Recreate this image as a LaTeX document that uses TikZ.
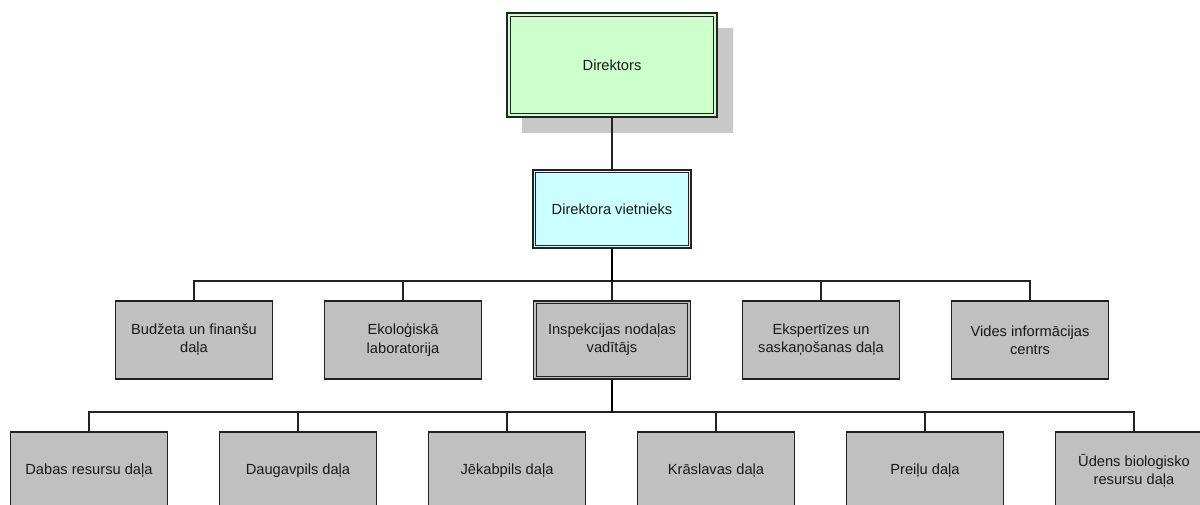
\documentclass[tikz,border=0pt]{standalone}
\usepackage{fontspec}
\setmainfont{Liberation Sans}
\usetikzlibrary{calc}
\definecolor{boxgray}{HTML}{C0C0C0}
\definecolor{shadowgray}{HTML}{C8C8C8}
\definecolor{dirgreen}{HTML}{CCFFCC}
\definecolor{viecyan}{HTML}{CCFFFF}
\definecolor{linecol}{HTML}{222222}
\tikzset{
  orgbox/.style={draw=linecol, line width=0.95pt, fill=boxgray, minimum width=117.75pt,
    minimum height=58.5pt, inner sep=0pt, align=center, text=black!90,
    font=\fontsize{11pt}{13.75pt}\selectfont},
  conn/.style={draw=linecol, line width=0.85pt},
  trunk/.style={draw=black, line width=1.6pt},
  innerframe/.style={draw=linecol, line width=0.95pt}
}
\begin{document}
\begin{tikzpicture}[x=0.75pt,y=-0.75pt]
\useasboundingbox (0,0) rectangle (1200,504);
% shadow of director
\fill[shadowgray] (522,28) rectangle (733,133);
% top nodes
\node[orgbox, fill=dirgreen, minimum width=157.5pt, minimum height=78pt] (dir) at (612,65) {Direktors};
\draw[innerframe] ($(dir.north west)+(3pt,-3pt)$) rectangle ($(dir.south east)+(-3pt,3pt)$);
\node[orgbox, fill=viecyan, minimum width=118.5pt] (vie) at (612,209) {Direktora vietnieks};
\draw[innerframe] ($(vie.north west)+(2.6pt,-2.6pt)$) rectangle ($(vie.south east)+(-2.6pt,2.6pt)$);
% level 2
\node[orgbox] (b1) at (194,340) {Budžeta un finanšu\\daļa};
\node[orgbox] (b2) at (403,340) {Ekoloģiskā\\laboratorija};
\node[orgbox] (b3) at (612,340) {Inspekcijas nodaļas\\vadītājs};
\draw[innerframe] ($(b3.north west)+(2.6pt,-2.6pt)$) rectangle ($(b3.south east)+(-2.6pt,2.6pt)$);
\node[orgbox] (b4) at (821,340) {Ekspertīzes un\\saskaņošanas daļa};
\node[orgbox] (b5) at (1030,340) {Vides informācijas\\centrs};
% level 3
\node[orgbox] (c1) at (89,471) {Dabas resursu daļa};
\node[orgbox] (c2) at (298,471) {Daugavpils daļa};
\node[orgbox] (c3) at (507,471) {Jēkabpils daļa};
\node[orgbox] (c4) at (716,471) {Krāslavas daļa};
\node[orgbox] (c5) at (925,471) {Preiļu daļa};
\node[orgbox] (c6) at (1134,471) {Ūdens biologisko\\resursu daļa};
% connectors
\coordinate (j2) at (612,281);
\coordinate (j3) at (612,412);
\draw[conn] (dir.south) -- (vie.north);
\foreach \n in {b1,b2,b3,b4,b5} {\draw[conn] (j2) -| (\n.north);}
\foreach \n in {c1,c2,c3,c4,c5,c6} {\draw[conn] (j3) -| (\n.north);}
\draw[trunk] (vie.south) -- (j2);
\draw[trunk] (b3.south) -- (j3);
\end{tikzpicture}
\end{document}
